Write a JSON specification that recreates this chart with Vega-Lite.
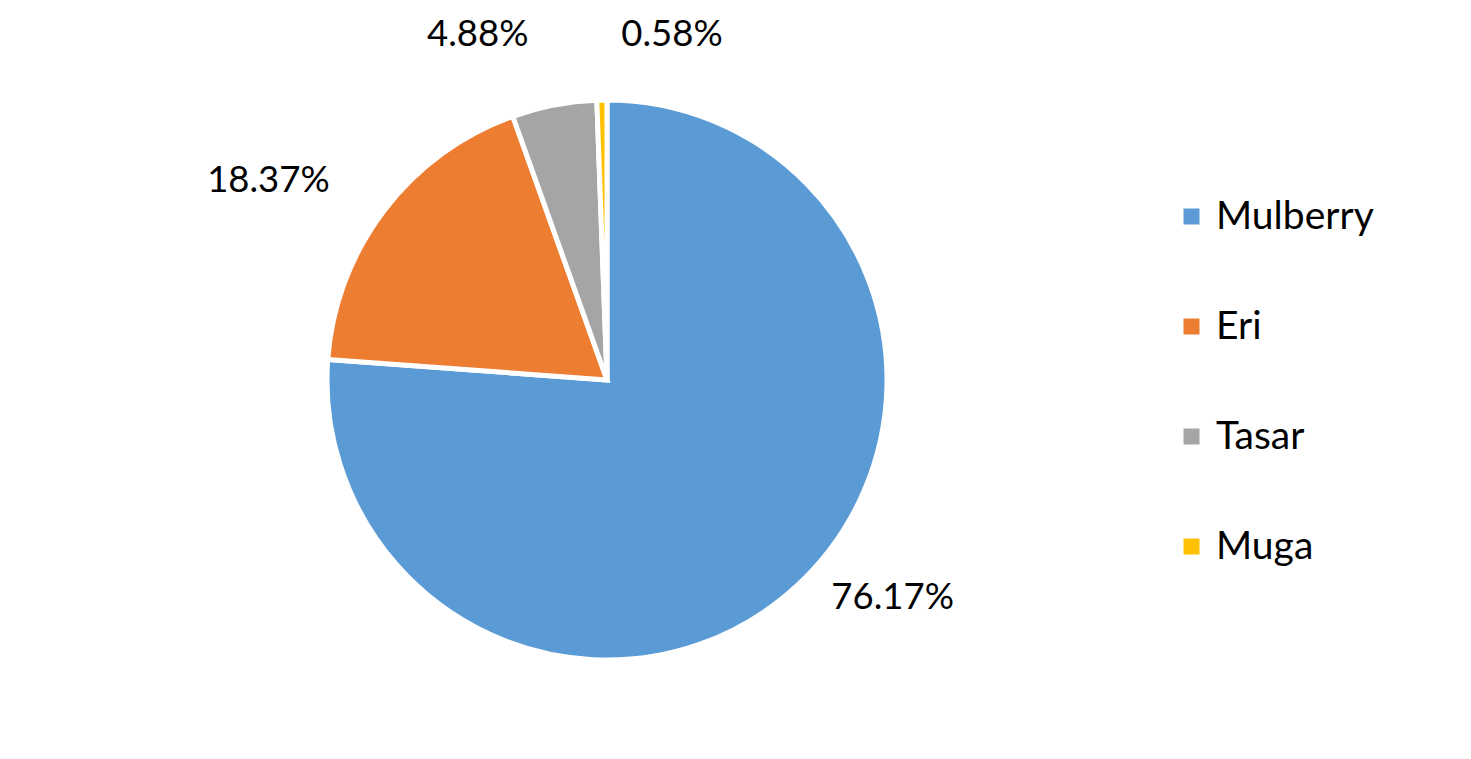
{
  "$schema": "https://vega.github.io/schema/vega-lite/v6.json",
  "width": 1214,
  "height": 760,
  "padding": 0,
  "background": "white",
  "config": {"view": {"stroke": null}, "font": "Lato"},
  "data": {
    "values": [
      {"silk": "Mulberry", "share": 0.7617},
      {"silk": "Eri", "share": 0.1837},
      {"silk": "Tasar", "share": 0.0488},
      {"silk": "Muga", "share": 0.0058}
    ]
  },
  "encoding": {
    "theta": {"field": "share", "type": "quantitative", "stack": true},
    "order": {"field": "share", "type": "quantitative", "sort": "descending"},
    "detail": {"field": "silk"}
  },
  "layer": [
    {
      "mark": {"type": "arc", "outerRadius": 280, "stroke": "white", "strokeWidth": 5},
      "encoding": {
        "color": {
          "field": "silk",
          "type": "nominal",
          "sort": ["Mulberry", "Eri", "Tasar", "Muga"],
          "scale": {
            "domain": ["Mulberry", "Eri", "Tasar", "Muga"],
            "range": ["#5B9BD5", "#ED7D31", "#A5A5A5", "#FFC000"]
          },
          "legend": {
            "orient": "none",
            "legendX": 1172,
            "legendY": 197,
            "title": null,
            "padding": 0,
            "symbolType": "square",
            "symbolSize": 256,
            "symbolStrokeWidth": 0,
            "labelFont": "Lato",
            "labelFontSize": 39,
            "labelColor": "black",
            "labelOffset": 5,
            "rowPadding": 70
          }
        }
      }
    },
    {
      "mark": {"type": "text", "radius": 330, "dx": 61, "dy": -24, "fontSize": 36.5, "color": "black"},
      "encoding": {
        "text": {"condition": {"test": "datum.silk == 'Mulberry'", "field": "share", "format": ".2%"}, "value": ""}
      }
    },
    {
      "mark": {"type": "text", "radius": 330, "dx": -76, "dy": 1, "fontSize": 36.5, "color": "black"},
      "encoding": {
        "text": {"condition": {"test": "datum.silk == 'Eri'", "field": "share", "format": ".2%"}, "value": ""}
      }
    },
    {
      "mark": {"type": "text", "radius": 330, "dx": -67, "dy": -21, "fontSize": 36.5, "color": "black"},
      "encoding": {
        "text": {"condition": {"test": "datum.silk == 'Tasar'", "field": "share", "format": ".2%"}, "value": ""}
      }
    },
    {
      "mark": {"type": "text", "radius": 330, "dx": 71, "dy": -15, "fontSize": 36.5, "color": "black"},
      "encoding": {
        "text": {"condition": {"test": "datum.silk == 'Muga'", "field": "share", "format": ".2%"}, "value": ""}
      }
    }
  ]
}
